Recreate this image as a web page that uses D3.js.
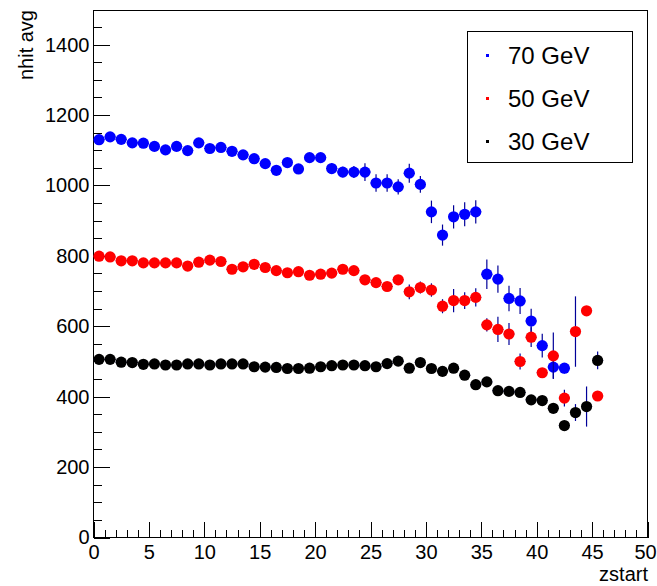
<!DOCTYPE html>
<html>
<head>
<meta charset="utf-8">
<script src="https://cdn.jsdelivr.net/npm/d3@7"></script>
<style>
  html, body { margin: 0; padding: 0; background: #fff; }
  svg { display: block; font-family: "Liberation Sans", Arial, Helvetica, sans-serif; }
</style>
</head>
<body>
<svg id="chart" width="657" height="586"></svg>
<script>
// Bin centres along zstart
const zstart = [0.5, 1.5, 2.5, 3.5, 4.5, 5.5, 6.5, 7.5, 8.5, 9.5,
  10.5, 11.5, 12.5, 13.5, 14.5, 15.5, 16.5, 17.5, 18.5, 19.5,
  20.5, 21.5, 22.5, 23.5, 24.5, 25.5, 26.5, 27.5, 28.5, 29.5,
  30.5, 31.5, 32.5, 33.5, 34.5, 35.5, 36.5, 37.5, 38.5, 39.5,
  40.5, 41.5, 42.5, 43.5, 44.5, 45.5];

// Average number of hits per bin, and its error, for each beam energy
const nhit70 = [1130, 1138, 1131, 1121, 1120, 1111, 1101, 1111, 1099, 1121,
  1105, 1108, 1097, 1087, 1076, 1062, 1043, 1065, 1047, 1079,
  1079, 1048, 1038, 1038, 1038, 1007, 1007, 996, 1035, 1003,
  925, 859, 911, 918, 925, 748, 734, 679, 672, 615,
  545, 484, 481];
const err70 = [10, 10, 10, 10, 10, 10, 10, 10, 10, 10,
  10, 10, 10, 10, 10, 12, 12, 12, 12, 12,
  12, 15, 15, 17, 25, 25, 25, 22, 27, 24,
  32, 30, 33, 34, 33, 42, 39, 36, 37, 35,
  34, 32, 15];

const nhit50 = [799, 797, 786, 786, 780, 780, 780, 780, 771, 782,
  788, 784, 762, 769, 776, 767, 758, 752, 755, 745,
  748, 751, 762, 758, 732, 724, 713, 732, 698, 710,
  703, 657, 673, 673, 682, 604, 591, 578, 500, 569,
  468, 516, 396, 585, 644, 402];
const err50 = [8, 8, 8, 8, 8, 8, 8, 8, 8, 8,
  9, 9, 9, 9, 9, 9, 10, 10, 10, 10,
  10, 10, 11, 11, 12, 13, 13, 14, 21, 17,
  19, 20, 33, 24, 26, 19, 36, 31, 23, 28,
  12, 66, 24, 100, 12, 12];

const nhit30 = [506, 506, 498, 497, 492, 493, 490, 490, 493, 493,
  490, 493, 493, 493, 485, 484, 483, 480, 480, 481,
  485, 488, 490, 490, 488, 485, 494, 501, 481, 497,
  480, 472, 481, 461, 434, 442, 417, 415, 412, 391,
  389, 367, 318, 355, 372, 503];
const err30 = [6, 6, 6, 6, 6, 6, 6, 6, 6, 6,
  6, 6, 6, 6, 6, 6, 6, 6, 6, 6,
  7, 7, 7, 7, 7, 7, 7, 7, 7, 7,
  7, 8, 8, 8, 9, 9, 9, 9, 10, 10,
  10, 12, 12, 24, 57, 25];

const seriesNames = ["70 GeV", "50 GeV", "30 GeV"];
const seriesColors = ["#0000ff", "#ff0000", "#000000"];
const seriesValues = [nhit70, nhit50, nhit30];
const seriesErrors = [err70, err50, err30];

const xMajorTicks = [0, 5, 10, 15, 20, 25, 30, 35, 40, 45, 50];
const yMajorTicks = [0, 200, 400, 600, 800, 1000, 1200, 1400];
const xMinorTicks = d3.range(0, 51, 1);
const yMinorTicks = d3.range(0, 1451, 50);

const xTitle = "zstart";
const yTitle = "nhit avg";

// Frame geometry
const frame = { left: 93.5, right: 647.5, top: 10.5, bottom: 537.5 };
const binHalfWidth = 0.5;
const errColor = "#000099";
const markerR = 5.6;
const labelFont = 20;

const svg = d3.select("#chart");

const x = d3.scaleLinear().domain([0, 50]).range([frame.left, frame.right]);
const y = d3.scaleLinear().domain([0, 1497]).range([frame.bottom, frame.top]);

// Frame
svg.append("rect")
  .attr("x", frame.left).attr("y", frame.top)
  .attr("width", frame.right - frame.left)
  .attr("height", frame.bottom - frame.top)
  .attr("fill", "#fff")
  .attr("stroke", "#000")
  .attr("stroke-width", 1)
  .attr("shape-rendering", "crispEdges");

// Y axis: inward ticks, labels on the left
const yAxisG = svg.append("g").attr("transform", `translate(${frame.left},0)`);
yAxisG.call(d3.axisLeft(y).tickValues(yMinorTicks).tickSize(-8.3).tickFormat(""));
yAxisG.call(g => g.select(".domain").remove());
const yMajG = svg.append("g").attr("transform", `translate(${frame.left},0)`);
yMajG.call(d3.axisLeft(y).tickValues(yMajorTicks).tickSize(-16.6).tickPadding(4).tickFormat(d3.format("d")));
yMajG.call(g => g.select(".domain").remove());

// X axis: inward ticks, labels below
const xAxisG = svg.append("g").attr("transform", `translate(0,${frame.bottom})`);
xAxisG.call(d3.axisBottom(x).tickValues(xMinorTicks).tickSize(-7.9).tickFormat(""));
xAxisG.call(g => g.select(".domain").remove());
const xMajG = svg.append("g").attr("transform", `translate(0,${frame.bottom})`);
xMajG.call(d3.axisBottom(x).tickValues(xMajorTicks).tickSize(-15.8).tickPadding(7).tickFormat(d3.format("d")));
xMajG.call(g => g.select(".domain").remove());
// keep the last label inside the canvas
xMajG.selectAll(".tick").filter(d => d === 50).select("text").attr("dx", -2.5);

svg.selectAll(".tick line").attr("stroke", "#000").attr("shape-rendering", "crispEdges");
svg.selectAll(".tick text")
  .attr("fill", "#000")
  .style("font-size", labelFont + "px")
  .style("font-family", "\"Liberation Sans\", Arial, Helvetica, sans-serif");

// Axis titles
svg.append("text")
  .attr("x", frame.right + 0.5).attr("y", 581)
  .attr("text-anchor", "end")
  .style("font-size", "20px")
  .text(xTitle);

svg.append("text")
  .attr("transform", `translate(33,${frame.top - 0.5}) rotate(-90)`)
  .attr("text-anchor", "end")
  .style("font-size", "20px")
  .text(yTitle);

// Data points with error bars
const plot = svg.append("g");
seriesValues.forEach((vals, s) => {
  const pts = vals.map((v, i) => ({ z: zstart[i], v: v, e: seriesErrors[s][i] }));
  const g = plot.append("g");
  // vertical error bars
  g.selectAll("line.ey").data(pts).join("line")
    .attr("class", "ey")
    .attr("x1", d => x(d.z)).attr("x2", d => x(d.z))
    .attr("y1", d => y(d.v - d.e)).attr("y2", d => y(d.v + d.e))
    .attr("stroke", errColor).attr("stroke-width", 1.2);
  // horizontal bin-width bars
  g.selectAll("line.ex").data(pts).join("line")
    .attr("class", "ex")
    .attr("x1", d => x(d.z - binHalfWidth)).attr("x2", d => x(d.z + binHalfWidth))
    .attr("y1", d => y(d.v)).attr("y2", d => y(d.v))
    .attr("stroke", errColor).attr("stroke-width", 1);
  // markers
  g.selectAll("circle").data(pts).join("circle")
    .attr("cx", d => x(d.z)).attr("cy", d => y(d.v))
    .attr("r", markerR)
    .attr("fill", seriesColors[s]);
});

// Legend
const legend = svg.append("g");
legend.append("rect")
  .attr("x", 467.5).attr("y", 31.5)
  .attr("width", 165).attr("height", 131)
  .attr("fill", "#fff")
  .attr("stroke", "#000")
  .attr("stroke-width", 1)
  .attr("shape-rendering", "crispEdges");
const legendBaselines = [64, 107, 150];
seriesNames.forEach((name, s) => {
  legend.append("rect")
    .attr("x", 486).attr("y", legendBaselines[s] - 10)
    .attr("width", 3).attr("height", 3)
    .attr("fill", seriesColors[s]);
  legend.append("text")
    .attr("x", 508).attr("y", legendBaselines[s])
    .style("font-size", "24px")
    .attr("fill", "#000")
    .text(name);
});
</script>
</body>
</html>
